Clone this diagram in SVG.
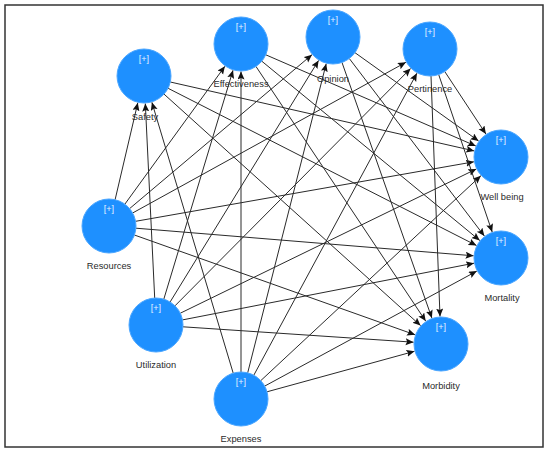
<svg xmlns="http://www.w3.org/2000/svg" width="550" height="453" viewBox="0 0 550 453">
<style>
.frame{fill:#fff;stroke:#333;stroke-width:1.5}
.edge{stroke:#2a2a2a;stroke-width:1;fill:none;marker-end:url(#arr)}
.node circle{fill:#1e90ff;stroke:#4aa6ff;stroke-width:1}
.plus{font-family:"Liberation Sans",Arial,sans-serif;font-size:9px;fill:#e6f2ff;text-anchor:middle}
.lbl{font-family:"Liberation Sans",Arial,sans-serif;font-size:9.3px;fill:#2a2a2a;text-anchor:middle}
</style>
<defs>
<marker id="arr" markerUnits="userSpaceOnUse" markerWidth="9" markerHeight="8" refX="8" refY="3.5" orient="auto">
<path d="M0,0 L8,3.5 L0,7 L1.5,3.5 z" fill="#111"/>
</marker>
</defs>
<rect class="frame" x="5" y="5" width="538" height="442"/>
<g id="connectors">
<line class="edge" x1="115.1" y1="199.7" x2="137.8" y2="102.8"/>
<line class="edge" x1="124.9" y1="204.1" x2="224.9" y2="66.3"/>
<line class="edge" x1="129.6" y1="208.6" x2="312.0" y2="54.7"/>
<line class="edge" x1="132.6" y1="213.0" x2="405.9" y2="62.3"/>
<line class="edge" x1="135.6" y1="221.3" x2="473.9" y2="161.8"/>
<line class="edge" x1="135.9" y1="228.2" x2="473.6" y2="255.8"/>
<line class="edge" x1="134.4" y1="235.0" x2="415.1" y2="334.8"/>
<line class="edge" x1="154.7" y1="298.0" x2="145.3" y2="103.5"/>
<line class="edge" x1="163.8" y1="299.2" x2="233.0" y2="70.3"/>
<line class="edge" x1="170.1" y1="302.0" x2="318.6" y2="60.4"/>
<line class="edge" x1="175.0" y1="305.8" x2="410.6" y2="68.5"/>
<line class="edge" x1="180.3" y1="313.2" x2="476.3" y2="169.0"/>
<line class="edge" x1="182.5" y1="319.9" x2="474.0" y2="263.2"/>
<line class="edge" x1="182.9" y1="326.8" x2="413.6" y2="342.2"/>
<line class="edge" x1="233.2" y1="373.1" x2="151.9" y2="102.3"/>
<line class="edge" x1="241" y1="372" x2="241" y2="71.5"/>
<line class="edge" x1="247.7" y1="372.8" x2="326.2" y2="63.7"/>
<line class="edge" x1="253.8" y1="375.2" x2="416.9" y2="73.2"/>
<line class="edge" x1="260.8" y1="380.6" x2="480.9" y2="175.7"/>
<line class="edge" x1="264.7" y1="386.1" x2="476.8" y2="271.1"/>
<line class="edge" x1="267.0" y1="391.8" x2="414.5" y2="351.3"/>
<line class="edge" x1="170.3" y1="82.0" x2="474.2" y2="150.9"/>
<line class="edge" x1="168.1" y1="88.3" x2="476.5" y2="245.5"/>
<line class="edge" x1="164.0" y1="94.1" x2="420.6" y2="325.6"/>
<line class="edge" x1="265.8" y1="54.8" x2="475.8" y2="146.0"/>
<line class="edge" x1="261.8" y1="61.2" x2="479.8" y2="240.5"/>
<line class="edge" x1="256.0" y1="66.5" x2="425.7" y2="321.1"/>
<line class="edge" x1="355.0" y1="52.7" x2="478.6" y2="141.0"/>
<line class="edge" x1="349.3" y1="58.5" x2="484.4" y2="236.1"/>
<line class="edge" x1="342.0" y1="62.5" x2="431.9" y2="318.1"/>
<line class="edge" x1="444.8" y1="71.6" x2="485.9" y2="134.0"/>
<line class="edge" x1="438.7" y1="74.6" x2="492.2" y2="232.0"/>
<line class="edge" x1="431.0" y1="76.0" x2="440.0" y2="316.5"/>
</g>
<g id="safety" class="node"><circle cx="144" cy="76" r="27"/><text class="plus" x="144" y="62">[+]</text><text class="lbl" x="145" y="120">Safety</text></g>
<g id="effectiveness" class="node"><circle cx="241" cy="44" r="27"/><text class="plus" x="241" y="30">[+]</text><text class="lbl" x="241" y="87">Effectiveness</text></g>
<g id="opinion" class="node"><circle cx="333" cy="37" r="27"/><text class="plus" x="333" y="23">[+]</text><text class="lbl" x="333" y="82">Opinion</text></g>
<g id="pertinence" class="node"><circle cx="430" cy="49" r="27"/><text class="plus" x="430" y="35">[+]</text><text class="lbl" x="430" y="92">Pertinence</text></g>
<g id="wellbeing" class="node"><circle cx="501" cy="157" r="27"/><text class="plus" x="501" y="143">[+]</text><text class="lbl" x="502" y="200">Well being</text></g>
<g id="mortality" class="node"><circle cx="501" cy="258" r="27"/><text class="plus" x="501" y="244">[+]</text><text class="lbl" x="502" y="301">Mortality</text></g>
<g id="morbidity" class="node"><circle cx="441" cy="344" r="27"/><text class="plus" x="441" y="330">[+]</text><text class="lbl" x="441" y="389">Morbidity</text></g>
<g id="resources" class="node"><circle cx="109" cy="226" r="27"/><text class="plus" x="109" y="212">[+]</text><text class="lbl" x="109" y="269">Resources</text></g>
<g id="utilization" class="node"><circle cx="156" cy="325" r="27"/><text class="plus" x="156" y="311">[+]</text><text class="lbl" x="156" y="368">Utilization</text></g>
<g id="expenses" class="node"><circle cx="241" cy="399" r="27"/><text class="plus" x="241" y="385">[+]</text><text class="lbl" x="241" y="442">Expenses</text></g>
</svg>
